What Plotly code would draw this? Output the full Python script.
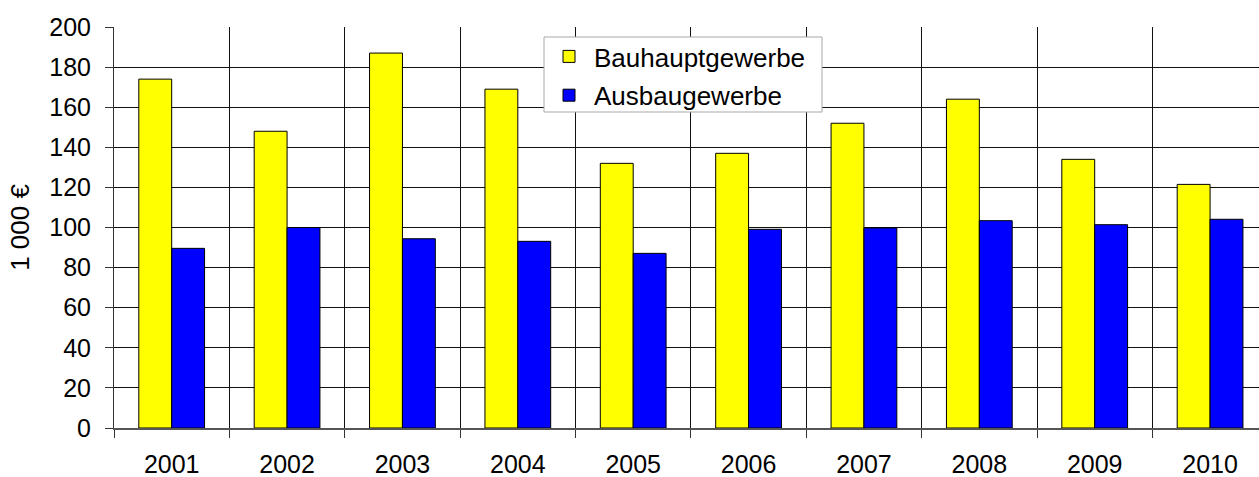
import plotly.graph_objects as go

years = ["2001", "2002", "2003", "2004", "2005", "2006", "2007", "2008", "2009", "2010"]
bauhaupt = [174, 148, 187, 169, 132, 137, 152, 164, 134, 121.5]
ausbau = [89.6, 100, 94.4, 93.1, 87.1, 99.1, 99.8, 103.4, 101.4, 104.1]
yticks = [0, 20, 40, 60, 80, 100, 120, 140, 160, 180, 200]

FONT = "Liberation Sans, Arial, sans-serif"
FS = 25

W, H = 1259, 477
L, R, T, B = 114, 0, 27, 49
PW, PH = W - L - R, H - T - B


def px_x(x):
    return (x - L) / PW


def px_y(y):
    return (H - B - y) / PH


fig = go.Figure()
fig.add_trace(go.Bar(
    x=years, y=bauhaupt, name="Bauhauptgewerbe", legendgroup="a",
    marker=dict(color="#FFFF00", line=dict(color="#000000", width=1)),
))
fig.add_trace(go.Bar(
    x=years, y=ausbau, name="Ausbaugewerbe", legendgroup="b",
    marker=dict(color="#0000FF", line=dict(color="#000000", width=1)),
))

# white legend panel with a grey frame, drawn over the grid
fig.add_shape(
    type="rect", xref="paper", yref="paper", layer="above",
    x0=px_x(544), x1=px_x(822), y0=px_y(112), y1=px_y(37),
    fillcolor="white", line=dict(color="#a8a8a8", width=1),
)

fig.update_layout(
    width=W, height=H,
    margin=dict(l=L, r=R, t=T, b=B),
    paper_bgcolor="white", plot_bgcolor="white",
    font=dict(family=FONT, size=FS, color="black"),
    barmode="group", bargap=0.43, bargroupgap=0,
    showlegend=True,
    legend=dict(
        x=px_x(544), y=px_y(33),
        xanchor="left", yanchor="top",
        bgcolor="rgba(0,0,0,0)", borderwidth=0,
        traceorder="grouped", tracegroupgap=2, itemwidth=40,
        font=dict(family=FONT, size=26, color="black"),
    ),
)

fig.update_xaxes(
    type="category", range=[-0.5, 9.424],
    tickson="boundaries", ticks="outside", ticklen=8, tickcolor="#333",
    tickfont=dict(family=FONT, size=FS, color="black"),
    showgrid=True, gridcolor="#111", gridwidth=1,
    showline=True, linecolor="#555", linewidth=1.5,
    ticklabelstandoff=13,
)
fig.update_yaxes(
    range=[0, 200], tickvals=yticks,
    ticks="outside", ticklen=8, tickcolor="#333",
    tickfont=dict(family=FONT, size=FS, color="black"),
    showgrid=True, gridcolor="#111", gridwidth=1,
    showline=True, linecolor="#333", linewidth=1,
    zeroline=False, ticklabelstandoff=9,
    title=dict(text="1 000 €", standoff=12, font=dict(family=FONT, size=26, color="black")),
)

fig.write_html("out.html")
